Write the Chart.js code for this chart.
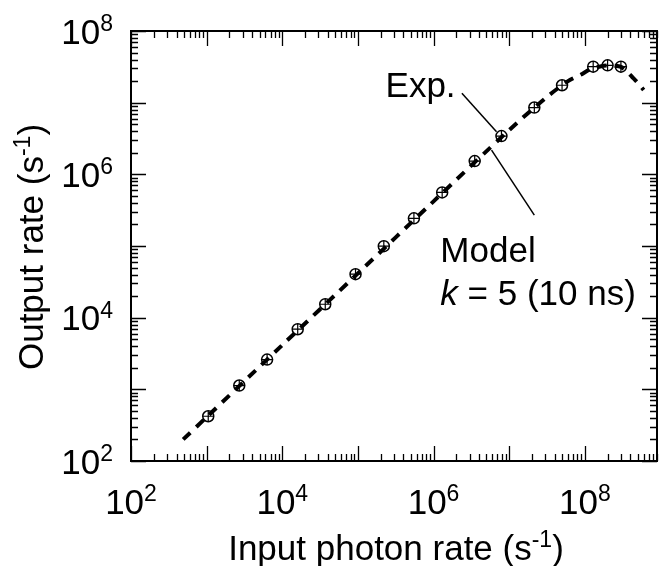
<!DOCTYPE html>
<html>
<head>
<meta charset="utf-8">
<script src="https://cdn.jsdelivr.net/npm/chart.js@4.4.1/dist/chart.umd.min.js"></script>
<style>
  body { margin: 0; background: #fff; }
  canvas { display: block; }
</style>
</head>
<body>
<canvas id="rateChart" width="664" height="566"></canvas>
<script>
// measured points: input photon rate vs output rate (s^-1)
const expInput = [1.05e3, 2.7e3, 6.3e3, 1.6e4, 3.7e4, 9.3e4, 2.2e5, 5.5e5, 1.3e6, 3.5e6, 7.9e6, 2.15e7, 5.0e7, 1.29e8, 2.0e8, 3.0e8];
const expOutput = [421, 1130, 2600, 6900, 1.54e4, 4.05e4, 9.95e4, 2.43e5, 5.6e5, 1.53e6, 3.42e6, 8.55e6, 1.75e7, 3.18e7, 3.32e7, 3.18e7];

// model curve (k = 5, 10 ns)
const modelInput = [4.9e2, 1e3, 1e4, 1e5, 1e6, 1e7, 3e7, 6e7, 8.8e7, 1.2e8, 1.6e8, 2e8, 2.5e8, 3e8, 3.5e8, 4.2e8, 5e8, 6e8];
const modelOutput = [200, 410, 4.15e3, 4.15e4, 4.2e5, 4.15e6, 1.15e7, 2.0e7, 2.45e7, 2.95e7, 3.2e7, 3.3e7, 3.27e7, 3.15e7, 2.8e7, 2.3e7, 1.9e7, 1.5e7];

// leader lines for the two labels
const expLeaderX = [2.37e6, 6.8e6];
const expLeaderY = [1.35e7, 3.93e6];
const modelLeaderX = [5.85e6, 2.15e7];
const modelLeaderY = [2.18e6, 2.7e5];

// axis ticks
const decades = [1e2, 1e3, 1e4, 1e5, 1e6, 1e7, 1e8];
const labelValues = [1e2, 1e4, 1e6, 1e8];
const labelExponents = ["2", "4", "6", "8"];

// text notes, placed in data coordinates (left edge, baseline)
const noteItalic = ["", "", "k"];
const noteText = ["Exp.", "Model", " = 5 (10 ns)"];
const noteX = [2.32e5, 1.23e6, 1.23e6];
const noteY = [1.21e7, 6.04e4, 1.5e4];

const FONT = '"Liberation Sans", Arial, sans-serif';
const BIG = 35;
const SUP = 23;

const pts = (xs, ys) => xs.map((v, i) => ({ x: v, y: ys[i] }));

function drawPower(ctx, exp, x, baseline, align) {
  ctx.font = `${BIG}px ${FONT}`;
  const wb = ctx.measureText("10").width;
  ctx.font = `${SUP}px ${FONT}`;
  const ws = ctx.measureText(exp).width;
  let left = x;
  if (align === "center") left = x - (wb + ws) / 2;
  else if (align === "right") left = x - wb - ws;
  ctx.textAlign = "left";
  ctx.textBaseline = "alphabetic";
  ctx.font = `${BIG}px ${FONT}`;
  ctx.fillText("10", left, baseline);
  ctx.font = `${SUP}px ${FONT}`;
  ctx.fillText(exp, left + wb, baseline - 12.5);
}

// text + superscript + tail, centered at x
function drawTitle(ctx, head, sup, tail, cx, baseline) {
  ctx.font = `${BIG}px ${FONT}`;
  const w1 = ctx.measureText(head).width;
  const w3 = ctx.measureText(tail).width;
  ctx.font = `${SUP}px ${FONT}`;
  const w2 = ctx.measureText(sup).width;
  let left = cx - (w1 + w2 + w3) / 2;
  ctx.textAlign = "left";
  ctx.textBaseline = "alphabetic";
  ctx.font = `${BIG}px ${FONT}`;
  ctx.fillText(head, left, baseline);
  ctx.font = `${SUP}px ${FONT}`;
  ctx.fillText(sup, left + w1, baseline - 13);
  ctx.font = `${BIG}px ${FONT}`;
  ctx.fillText(tail, left + w1 + w2, baseline);
}

const axesPlugin = {
  id: "axesPlugin",
  afterDatasetsDraw(chart) {
    const { ctx, chartArea: a, scales } = chart;
    const sx = scales.x, sy = scales.y;
    ctx.save();
    ctx.fillStyle = "#000";
    ctx.strokeStyle = "#000";

    // frame
    ctx.lineWidth = 2;
    ctx.strokeRect(a.left, a.top, a.right - a.left, a.bottom - a.top);

    // inward tick marks on all four sides
    ctx.lineWidth = 1.3;
    const xmax = sx.max, ymax = sy.max;
    decades.forEach(d => {
      for (let m = 1; m <= 9; m++) {
        const v = d * m;
        const len = m === 1 ? 15 : 7;
        if (v <= xmax) {
          const px = Math.round(sx.getPixelForValue(v)) + 0.5;
          ctx.beginPath();
          ctx.moveTo(px, a.bottom); ctx.lineTo(px, a.bottom - len);
          ctx.moveTo(px, a.top); ctx.lineTo(px, a.top + len);
          ctx.stroke();
        }
        if (v <= ymax) {
          const py = Math.round(sy.getPixelForValue(v)) + 0.5;
          ctx.beginPath();
          ctx.moveTo(a.left, py); ctx.lineTo(a.left + len, py);
          ctx.moveTo(a.right, py); ctx.lineTo(a.right - len, py);
          ctx.stroke();
        }
      }
    });

    // tick labels
    labelValues.forEach((v, i) => {
      drawPower(ctx, labelExponents[i], sx.getPixelForValue(v), a.bottom + 52.5, "center");
      drawPower(ctx, labelExponents[i], a.left - 18, sy.getPixelForValue(v) + 12.5, "right");
    });

    // axis titles
    drawTitle(ctx, "Input photon rate (s", "-1", ")", (a.left + a.right) / 2 + 2, 560);
    ctx.save();
    ctx.translate(43, (a.top + a.bottom) / 2 + 1);
    ctx.rotate(-Math.PI / 2);
    drawTitle(ctx, "Output rate (s", "-1", ")", 0, 0);
    ctx.restore();

    // notes
    noteText.forEach((t, i) => {
      let x = sx.getPixelForValue(noteX[i]);
      const y = sy.getPixelForValue(noteY[i]);
      ctx.textAlign = "left";
      ctx.textBaseline = "alphabetic";
      if (noteItalic[i]) {
        ctx.font = `italic ${BIG}px ${FONT}`;
        ctx.fillText(noteItalic[i], x, y);
        x += ctx.measureText(noteItalic[i]).width;
      }
      ctx.font = `${BIG}px ${FONT}`;
      ctx.fillText(t, x, y);
    });
    ctx.restore();
  }
};

new Chart(document.getElementById("rateChart"), {
  type: "scatter",
  data: {
    datasets: [
      {
        data: pts(expInput, expOutput),
        pointStyle: "cross",
        pointRadius: 5.5,
        borderColor: "#000",
        borderWidth: 1.2,
        order: 0,
      },
      {
        data: pts(expInput, expOutput),
        pointStyle: "circle",
        pointRadius: 5.5,
        borderColor: "#000",
        backgroundColor: "rgba(0,0,0,0)",
        borderWidth: 1.5,
        order: 1,
      },
      {
        data: pts(modelInput, modelOutput),
        showLine: true,
        pointRadius: 0,
        borderColor: "#000",
        borderWidth: 4,
        borderDash: [10, 8],
        tension: 0.3,
        order: 2,
      },
      {
        data: pts(expLeaderX, expLeaderY),
        showLine: true,
        pointRadius: 0,
        borderColor: "#000",
        borderWidth: 1.5,
        order: 3,
      },
      {
        data: pts(modelLeaderX, modelLeaderY),
        showLine: true,
        pointRadius: 0,
        borderColor: "#000",
        borderWidth: 1.5,
        order: 3,
      },
    ],
  },
  options: {
    responsive: false,
    devicePixelRatio: 1,
    animation: false,
    layout: { padding: { left: 131, top: 31, right: 2, bottom: 105 } },
    plugins: { legend: { display: false }, tooltip: { enabled: false } },
    scales: {
      x: { type: "logarithmic", min: 1e2, max: 9e8, display: false },
      y: { type: "logarithmic", min: 1e2, max: 1e8, display: false },
    },
  },
  plugins: [axesPlugin],
});
</script>
</body>
</html>
